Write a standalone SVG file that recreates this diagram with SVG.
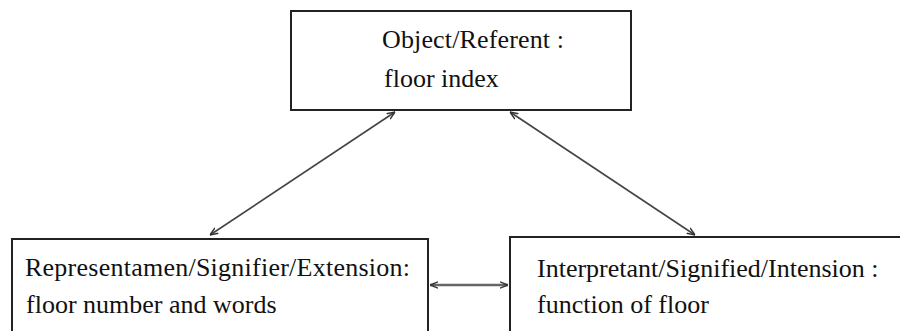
<svg xmlns="http://www.w3.org/2000/svg" width="900" height="331" viewBox="0 0 900 331">
<defs>
<style>
.box{fill:#fff;stroke:#222;stroke-width:2}
text{font-family:'Liberation Serif','Times New Roman','DejaVu Serif',serif;font-size:26px;fill:#111}
.c{stroke:#444;stroke-width:1.6;fill:none;marker-start:url(#ah);marker-end:url(#ah)}
.h{stroke:#666;stroke-width:2.4}
</style>
<marker id="ah" viewBox="0 0 10 10" refX="10" refY="5" markerWidth="8" markerHeight="8" markerUnits="userSpaceOnUse" orient="auto-start-reverse">
<path d="M0,1 L10,5 L0,9" fill="none" stroke="#333" stroke-width="1.8"/>
</marker>
</defs>
<rect width="900" height="331" fill="#fff"/>
<g id="object">
<rect class="box" x="291" y="11" width="340" height="99"/>
<text x="382" y="48" textLength="182">Object/Referent :</text>
<text x="384" y="87">floor index</text>
</g>
<g id="representamen">
<rect class="box" x="12" y="239" width="416" height="100"/>
<text x="25" y="276" textLength="385">Representamen/Signifier/Extension:</text>
<text x="26" y="313">floor number and words</text>
</g>
<g id="interpretant">
<rect class="box" x="510" y="237" width="400" height="100"/>
<text x="537" y="277">Interpretant/Signified/Intension :</text>
<text x="537" y="313">function of floor</text>
</g>
<g id="connectors">
<line class="c" x1="395" y1="112" x2="210" y2="235"/>
<line class="c" x1="510" y1="112" x2="695" y2="235"/>
<line class="c h" x1="430" y1="285" x2="508" y2="285"/>
</g>
</svg>
